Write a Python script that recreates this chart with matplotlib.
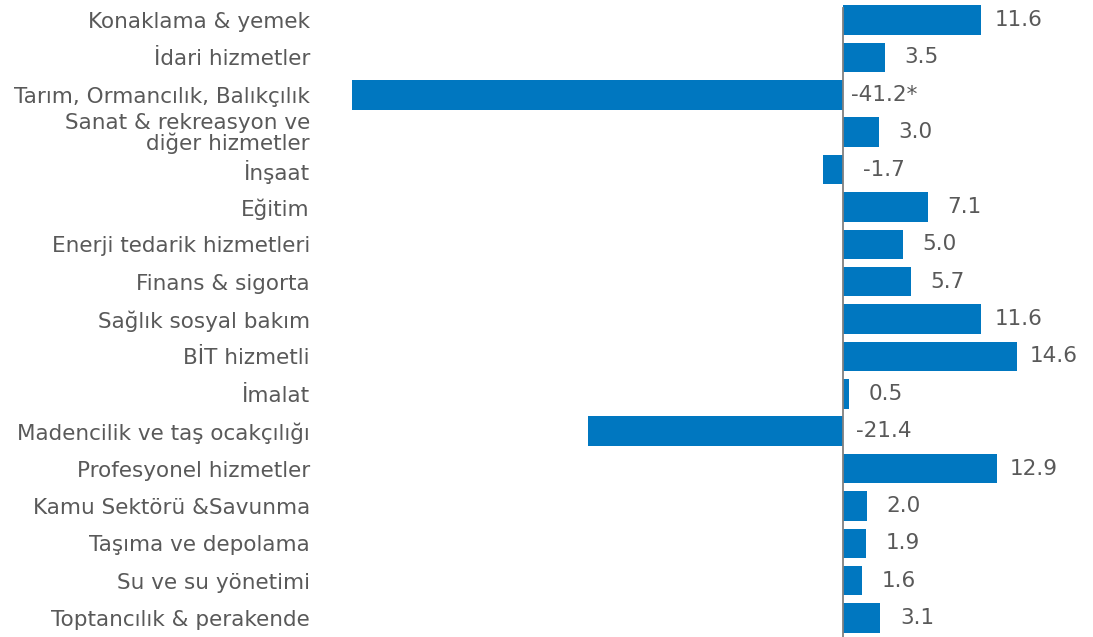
import matplotlib
matplotlib.use("Agg")
import matplotlib.pyplot as plt

categories = [
    "Konaklama & yemek",
    "İdari hizmetler",
    "Tarım, Ormancılık, Balıkçılık",
    "Sanat & rekreasyon ve\ndiğer hizmetler",
    "İnşaat",
    "Eğitim",
    "Enerji tedarik hizmetleri",
    "Finans & sigorta",
    "Sağlık sosyal bakım",
    "BİT hizmetli",
    "İmalat",
    "Madencilik ve taş ocakçılığı",
    "Profesyonel hizmetler",
    "Kamu Sektörü &Savunma",
    "Taşıma ve depolama",
    "Su ve su yönetimi",
    "Toptancılık & perakende",
]
values = [11.6, 3.5, -41.2, 3.0, -1.7, 7.1, 5.0, 5.7, 11.6, 14.6, 0.5, -21.4, 12.9, 2.0, 1.9, 1.6, 3.1]
label_suffix = ["", "", "*", "", "", "", "", "", "", "", "", "", "", "", "", "", ""]

W, H, DPI = 1093, 637, 100
fig = plt.figure(figsize=(W / DPI, H / DPI), dpi=DPI)
fig.patch.set_facecolor("white")

xmin, xmax = -42.5, 20.0
scale = 11.918  # px per unit
zero_px = 843
left_px = zero_px + xmin * scale
width_px = (xmax - xmin) * scale
row = 37.37
first_center = 20.1
top_px = first_center - row / 2
bottom_px = first_center + row * (len(categories) - 0.5)
ax_h = bottom_px - top_px
ax = fig.add_axes([left_px / W, 1 - bottom_px / H, width_px / W, ax_h / H])

text_color = "#595959"
bar_color = "#0077C0"
fs = 15.5

y = list(range(len(categories)))
ax.barh(y, values, height=0.79, color=bar_color, zorder=2)
ax.set_xlim(xmin, xmax)
ax.set_ylim(len(categories) - 0.5, -0.5)
ax.axvline(0, color="#808080", linewidth=1.3, zorder=3, ymin=0, ymax=1 - (8 - top_px) / ax_h)

ax.set_yticks(y)
ax.set_yticklabels(categories, fontsize=fs, color=text_color, linespacing=0.95)
ax.tick_params(axis="y", length=0, pad=(left_px - 310) * 72 / DPI)
ax.set_xticks([])
for s in ax.spines.values():
    s.set_visible(False)

for yi, v, suf in zip(y, values, label_suffix):
    txt = f"{v:.1f}{suf}"
    if v >= 0:
        ax.annotate(txt, xy=(v, yi), xytext=(37 * 72 / DPI, 0), textcoords="offset points",
                    ha="center", va="center", fontsize=fs, color=text_color)
    else:
        ax.annotate(txt, xy=(0, yi), xytext=(41 * 72 / DPI, 0), textcoords="offset points",
                    ha="center", va="center", fontsize=fs, color=text_color)

fig.savefig("out.png", dpi=DPI, facecolor="white")
